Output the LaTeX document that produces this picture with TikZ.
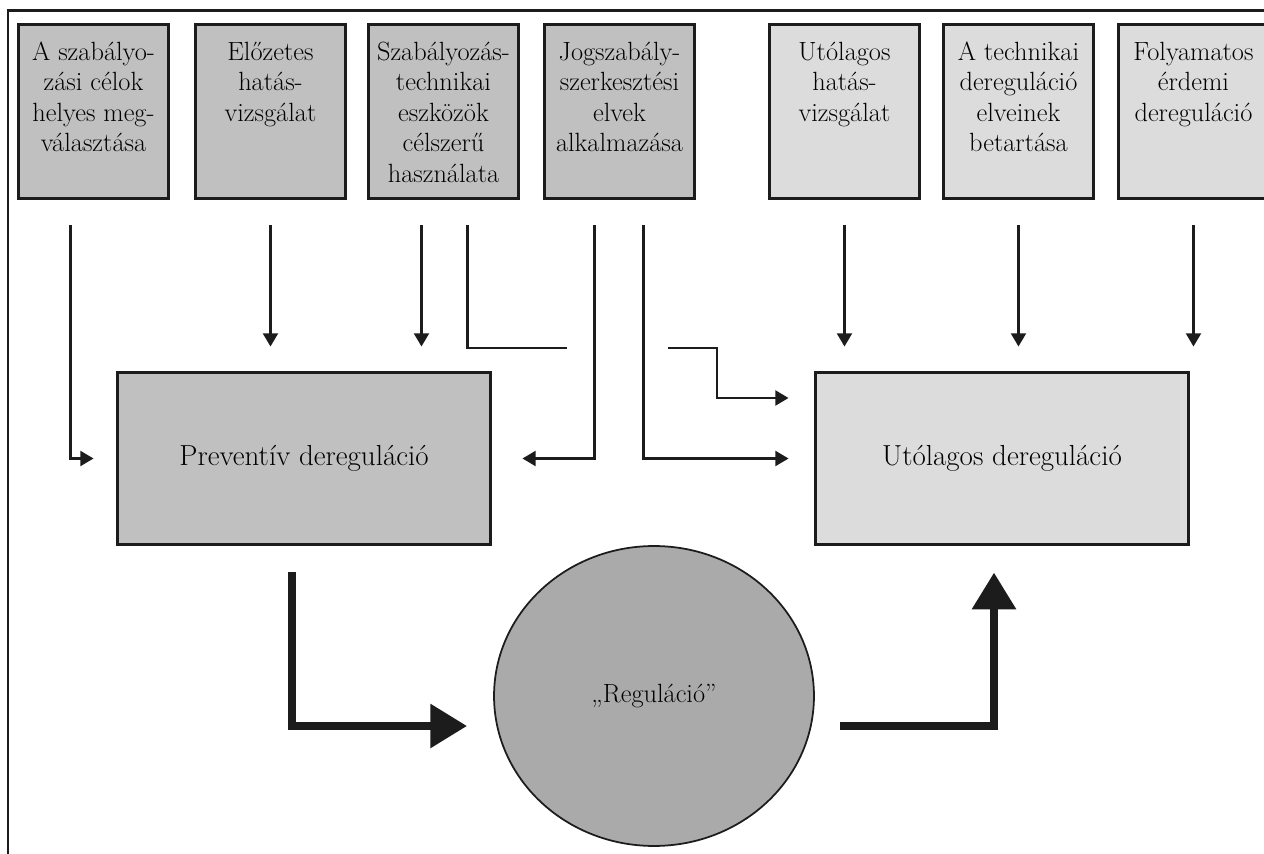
\documentclass[tikz,border=0pt]{standalone}
\usepackage{fontspec}
\usetikzlibrary{arrows.meta,shapes.geometric,calc}
\definecolor{ink}{RGB}{28,28,28}
\definecolor{darkbox}{RGB}{192,192,192}
\definecolor{lightbox}{RGB}{220,220,220}
\definecolor{regfill}{RGB}{170,170,170}
\newcommand{\boxtext}[1]{\parbox[c][3.48cm][t]{3cm}{\centering\rule{0pt}{0.72cm}#1}}
\begin{document}
\begin{tikzpicture}[x=0.02cm, y=-0.02cm, font=\fontsize{15}{17.3}\selectfont,
  topbox/.style={draw=ink, line width=1.7pt, fill=darkbox, inner sep=0pt, anchor=north west},
  topboxlight/.style={topbox, fill=lightbox},
  mainbox/.style={draw=ink, line width=1.7pt, fill=darkbox, minimum width=7.48cm, minimum height=3.46cm, inner sep=0pt, font=\fontsize{16.5}{19}\selectfont},
  regnode/.style={draw=ink, line width=1pt, fill=regfill, ellipse, minimum width=6.4cm, minimum height=6cm, inner sep=0pt},
  thinline/.style={draw=ink, line width=1.3pt},
  arr/.style={thinline, -{Triangle[length=7.5pt,width=8.5pt]}},
  bigarr/.style={draw=ink, line width=5pt, -{Triangle[length=21pt,width=24pt]}}]
\useasboundingbox (0,0) rectangle (1264,854);
\draw[ink, line width=1.7pt] (8,854) -- (8,11) -- (1264,11);

% upper row
\node (b1) at (17,23) [topbox] {\boxtext{A szabályo-\\zási célok\\helyes meg-\\választása}};
\node (b2) at (194,23) [topbox] {\boxtext{Előzetes\\hatás-\\vizsgálat}};
\node (b3) at (367,23) [topbox] {\boxtext{Szabályozás-\\technikai\\eszközök\\célszerű\\használata}};
\node (b4) at (543,23) [topbox] {\boxtext{Jogszabály-\\szerkesztési\\elvek\\alkalmazása}};
\node (b5) at (768,23) [topboxlight] {\boxtext{Utólagos\\hatás-\\vizsgálat}};
\node (b6) at (942,23) [topboxlight] {\boxtext{A technikai\\dereguláció\\elveinek\\betartása}};
\node (b7) at (1117,23) [topboxlight] {\boxtext{Folyamatos\\érdemi\\dereguláció}};

% main boxes
\node (pre) at (304,458.5) [mainbox] {Preventív dereguláció};
\node (utl) at (1002,458.5) [mainbox, fill=lightbox] {Utólagos dereguláció};
\node (reg) at (654,696) [regnode] {„Reguláció”};

\coordinate (gapl) at (567,348);
\coordinate (gapr) at (668,348);
\coordinate (bend) at (717,398);

\draw[arr] ($(b1.south)+(-23,25)$) |- ($(pre.west)+(-22,0)$);
\draw[arr] ($(b2.south)+(0,25)$) -- ($(b2.south |- pre.north)+(0,-24)$);
\draw[arr] ($(b3.south)+(-22,25)$) -- ($(b3.south |- pre.north)+(-22,-24)$);
\draw[thinline] ($(b3.south)+(24,25)$) |- (gapl);
\draw[arr] ($(b4.south)+(-25,25)$) |- ($(pre.east)+(30,0)$);
\draw[arr] ($(b4.south)+(24,25)$) |- ($(utl.west)+(-25,0)$);
\draw[arr] (gapr) -| (bend) -- ($(bend -| utl.west)+(-25,0)$);
\foreach \b in {b5,b6,b7}
  \draw[arr] ($(\b.south)+(0,25)$) -- ($(\b.south |- utl.north)+(0,-24)$);

\draw[bigarr] ($(pre.south)+(-12,26)$) |- ($(reg.west)+(-26,30)$);
\draw[bigarr] ($(reg.east)+(25,30)$) -| ($(utl.south)+(-8,26)$);
\end{tikzpicture}
\end{document}
